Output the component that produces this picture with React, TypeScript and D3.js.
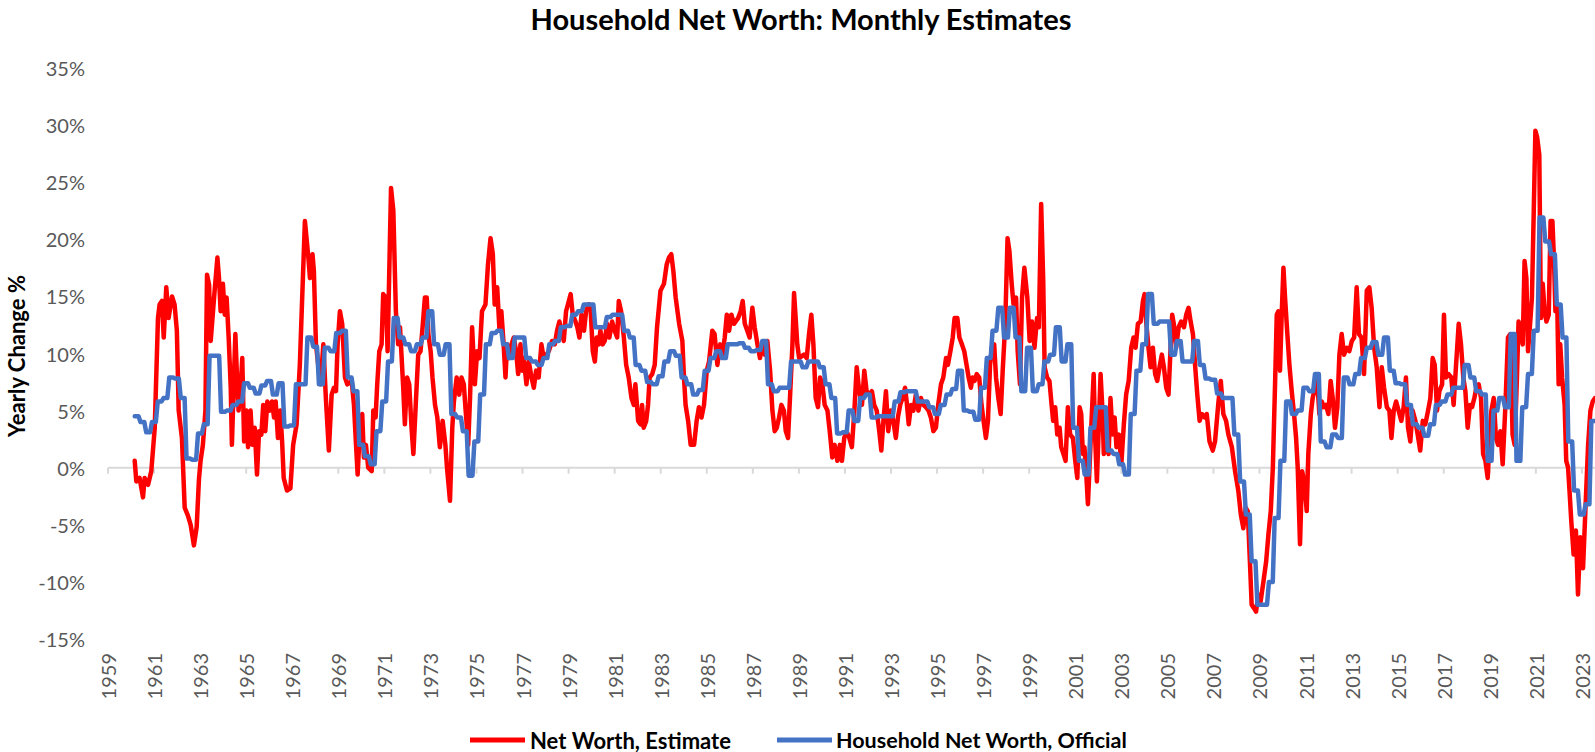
import React from "react";
import * as d3 from "d3";

// Monthly estimate of household net worth, yearly % change: [decimal year, value]
const netWorthEstimate: [number, number][] = [
  [1960.16, 0.6], [1960.23, -1.2], [1960.37, -0.9], [1960.52, -2.6], [1960.59, -0.9], [1960.74, -1.5], [1960.88, -0.3],
  [1961.03, 3.5], [1961.17, 13.1], [1961.24, 14.3], [1961.34, 14.6], [1961.42, 11.4], [1961.53, 15.8], [1961.63, 13.1],
  [1961.78, 15.0], [1961.89, 14.3], [1961.99, 12.0], [1962.07, 5.0], [1962.21, 2.6], [1962.33, -3.5], [1962.47, -4.2],
  [1962.59, -5.0], [1962.73, -6.8], [1962.85, -5.2], [1962.95, -1.0], [1963.02, 0.6], [1963.12, 2.0], [1963.23, 5.0],
  [1963.30, 16.9], [1963.39, 16.0], [1963.46, 11.1], [1963.56, 13.7], [1963.63, 15.5], [1963.75, 18.4], [1963.82, 16.6],
  [1963.89, 13.7], [1963.99, 16.1], [1964.07, 13.4], [1964.15, 14.9], [1964.24, 11.4], [1964.33, 7.0], [1964.38, 2.0],
  [1964.47, 7.9], [1964.53, 11.7], [1964.62, 7.0], [1964.67, 5.0], [1964.76, 7.0], [1964.83, 9.6], [1964.91, 2.3],
  [1965.01, 5.0], [1965.08, 1.8], [1965.19, 5.0], [1965.27, 2.0], [1965.37, 3.5], [1965.47, -0.6], [1965.56, 3.2],
  [1965.66, 2.9], [1965.74, 5.5], [1965.83, 3.2], [1965.92, 5.8], [1966.02, 5.0], [1966.12, 5.8], [1966.21, 4.4],
  [1966.28, 5.8], [1966.38, 2.6], [1966.48, 5.0], [1966.56, 2.3], [1966.63, -0.9], [1966.77, -2.0], [1966.92, -1.8],
  [1967.04, 2.0], [1967.19, 3.8], [1967.33, 9.0], [1967.55, 21.6], [1967.70, 18.4], [1967.77, 16.6], [1967.88, 18.7],
  [1967.94, 17.2], [1968.03, 10.8], [1968.13, 9.0], [1968.23, 7.3], [1968.35, 10.8], [1968.46, 6.1], [1968.59, 1.5],
  [1968.71, 6.4], [1968.81, 7.0], [1968.90, 6.7], [1968.97, 10.8], [1969.07, 13.7], [1969.17, 12.6], [1969.29, 7.9],
  [1969.39, 7.3], [1969.58, 7.6], [1969.68, 5.5], [1969.77, 2.0], [1969.84, -0.6], [1969.94, 3.5], [1970.04, 4.7],
  [1970.11, 0.9], [1970.20, 2.0], [1970.30, 0.0], [1970.45, -0.3], [1970.52, 5.0], [1970.62, 4.4], [1970.69, 7.3],
  [1970.78, 10.2], [1970.88, 10.8], [1970.95, 15.2], [1971.07, 14.9], [1971.14, 10.2], [1971.29, 24.5], [1971.39, 22.5],
  [1971.50, 13.7], [1971.60, 10.8], [1971.68, 12.3], [1971.82, 7.0], [1971.89, 3.8], [1971.99, 7.9], [1972.08, 7.3],
  [1972.18, 3.5], [1972.26, 1.2], [1972.37, 5.8], [1972.47, 9.9], [1972.57, 10.2], [1972.66, 12.3], [1972.76, 14.9],
  [1972.84, 14.9], [1972.91, 11.7], [1973.01, 10.2], [1973.09, 7.9], [1973.20, 5.5], [1973.30, 4.4], [1973.41, 1.8],
  [1973.53, 4.1], [1973.65, 2.0], [1973.72, 0.0], [1973.85, -2.9], [1973.95, 3.5], [1974.02, 5.8], [1974.14, 7.9],
  [1974.25, 6.4], [1974.35, 7.9], [1974.45, 7.3], [1974.53, 5.0], [1974.64, 2.0], [1974.72, 6.1], [1974.81, 12.3],
  [1974.93, 7.3], [1975.03, 10.2], [1975.13, 9.6], [1975.24, 13.7], [1975.39, 14.3], [1975.50, 17.8], [1975.61, 20.1],
  [1975.71, 18.7], [1975.79, 14.3], [1975.90, 15.8], [1976.00, 12.0], [1976.08, 13.7], [1976.18, 10.8], [1976.26, 7.9],
  [1976.33, 10.8], [1976.43, 9.6], [1976.52, 10.8], [1976.62, 11.4], [1976.72, 10.2], [1976.81, 8.2], [1976.91, 10.8],
  [1976.98, 8.5], [1977.05, 9.6], [1977.17, 7.3], [1977.27, 9.3], [1977.39, 7.9], [1977.49, 7.0], [1977.59, 8.5],
  [1977.70, 7.9], [1977.82, 10.8], [1977.92, 9.6], [1978.14, 10.2], [1978.28, 11.1], [1978.40, 10.8], [1978.50, 12.0],
  [1978.60, 12.8], [1978.69, 12.0], [1978.79, 11.1], [1978.89, 13.7], [1979.01, 14.6], [1979.09, 15.2], [1979.18, 13.4],
  [1979.30, 12.8], [1979.38, 12.3], [1979.47, 11.4], [1979.56, 13.4], [1979.67, 12.0], [1979.76, 13.7], [1979.88, 14.3],
  [1979.96, 13.7], [1980.05, 10.2], [1980.14, 9.3], [1980.22, 11.4], [1980.31, 10.8], [1980.38, 12.0], [1980.48, 10.8],
  [1980.57, 11.1], [1980.67, 12.6], [1980.77, 11.4], [1980.89, 12.8], [1981.00, 12.0], [1981.11, 11.4], [1981.18, 14.6],
  [1981.28, 13.7], [1981.40, 11.4], [1981.50, 9.0], [1981.61, 7.9], [1981.73, 6.1], [1981.83, 5.5], [1981.90, 7.3],
  [1982.02, 4.1], [1982.12, 3.8], [1982.19, 5.5], [1982.26, 3.5], [1982.37, 4.1], [1982.45, 5.5], [1982.52, 7.9],
  [1982.63, 8.2], [1982.74, 9.0], [1982.84, 12.3], [1982.99, 15.5], [1983.14, 16.1], [1983.26, 17.8], [1983.36, 18.4],
  [1983.46, 18.7], [1983.55, 17.2], [1983.65, 14.9], [1983.80, 12.6], [1983.94, 11.1], [1984.01, 7.9], [1984.08, 5.5],
  [1984.19, 4.1], [1984.30, 2.0], [1984.45, 2.0], [1984.56, 4.1], [1984.66, 5.3], [1984.77, 4.4], [1984.88, 5.5],
  [1985.00, 8.5], [1985.10, 9.3], [1985.24, 12.0], [1985.34, 11.7], [1985.46, 9.0], [1985.58, 10.8], [1985.68, 9.9],
  [1985.78, 11.4], [1985.87, 13.4], [1985.97, 12.0], [1986.07, 13.4], [1986.18, 12.6], [1986.36, 13.1], [1986.47, 13.7],
  [1986.56, 14.6], [1986.65, 12.6], [1986.76, 12.0], [1986.86, 11.4], [1986.98, 14.0], [1987.08, 12.3], [1987.20, 10.8],
  [1987.31, 9.6], [1987.41, 10.8], [1987.52, 9.9], [1987.63, 11.1], [1987.75, 8.5], [1987.85, 5.0], [1987.95, 3.2],
  [1988.04, 3.5], [1988.14, 4.4], [1988.24, 5.5], [1988.35, 5.0], [1988.43, 3.2], [1988.53, 2.6], [1988.62, 6.4],
  [1988.72, 10.8], [1988.79, 15.3], [1988.86, 13.1], [1988.93, 10.8], [1989.01, 9.6], [1989.22, 9.9], [1989.34, 9.6],
  [1989.44, 11.7], [1989.54, 13.4], [1989.63, 10.8], [1989.73, 6.1], [1989.83, 5.3], [1989.92, 7.9], [1990.02, 7.3],
  [1990.12, 5.5], [1990.24, 5.0], [1990.34, 3.2], [1990.45, 0.9], [1990.55, 2.0], [1990.67, 0.6], [1990.78, 2.0],
  [1990.87, 0.6], [1990.97, 2.6], [1991.07, 3.2], [1991.19, 2.6], [1991.30, 1.8], [1991.41, 5.0], [1991.51, 8.8],
  [1991.62, 6.7], [1991.74, 5.5], [1991.84, 8.5], [1991.94, 6.7], [1992.06, 6.4], [1992.17, 6.7], [1992.27, 5.5],
  [1992.38, 5.0], [1992.49, 3.2], [1992.58, 1.5], [1992.67, 4.1], [1992.78, 6.7], [1992.88, 3.2], [1992.99, 5.0],
  [1993.10, 4.1], [1993.21, 2.6], [1993.30, 4.4], [1993.40, 5.5], [1993.50, 6.1], [1993.61, 7.0], [1993.68, 5.8],
  [1993.77, 3.8], [1993.87, 5.5], [1993.97, 5.0], [1994.08, 6.4], [1994.19, 5.0], [1994.30, 6.1], [1994.40, 5.5],
  [1994.52, 5.3], [1994.63, 5.0], [1994.73, 4.4], [1994.84, 3.2], [1994.95, 3.5], [1995.05, 5.5], [1995.17, 7.3],
  [1995.27, 7.9], [1995.39, 9.6], [1995.47, 9.0], [1995.58, 10.2], [1995.68, 11.4], [1995.76, 13.1], [1995.88, 13.1],
  [1995.97, 11.4], [1996.08, 10.8], [1996.18, 10.2], [1996.28, 9.0], [1996.37, 7.9], [1996.47, 7.0], [1996.54, 7.9],
  [1996.63, 7.6], [1996.72, 8.2], [1996.83, 7.9], [1996.93, 5.5], [1997.02, 4.1], [1997.12, 2.6], [1997.21, 4.1],
  [1997.30, 9.0], [1997.38, 10.5], [1997.48, 10.8], [1997.56, 7.9], [1997.66, 6.1], [1997.76, 4.7], [1997.85, 8.5],
  [1997.96, 12.6], [1998.06, 20.1], [1998.14, 19.0], [1998.24, 16.1], [1998.32, 14.3], [1998.43, 14.9], [1998.50, 10.2],
  [1998.60, 7.3], [1998.69, 14.9], [1998.79, 17.5], [1998.92, 14.9], [1999.02, 11.1], [1999.12, 12.8], [1999.23, 10.5],
  [1999.34, 13.1], [1999.42, 12.3], [1999.52, 23.1], [1999.61, 16.3], [1999.67, 8.8], [1999.78, 7.9], [1999.88, 7.6],
  [1999.96, 5.8], [2000.04, 4.1], [2000.13, 5.3], [2000.22, 2.9], [2000.32, 3.5], [2000.39, 1.8], [2000.49, 1.2],
  [2000.58, 0.6], [2000.68, 5.3], [2000.78, 2.9], [2000.90, 2.6], [2001.00, 0.6], [2001.09, -0.9], [2001.19, 5.3],
  [2001.26, 4.7], [2001.33, 1.2], [2001.40, 1.8], [2001.48, -0.6], [2001.55, -3.2], [2001.62, 0.0], [2001.72, 4.7],
  [2001.80, 8.2], [2001.87, 2.3], [2001.94, -1.2], [2002.03, 4.1], [2002.10, 8.2], [2002.19, 4.7], [2002.24, 1.2],
  [2002.35, 2.3], [2002.45, 1.2], [2002.53, 6.1], [2002.62, 2.9], [2002.71, 4.4], [2002.79, 1.8], [2002.90, 2.9],
  [2003.00, 0.3], [2003.11, 3.8], [2003.21, 6.4], [2003.32, 7.6], [2003.43, 10.5], [2003.53, 11.4], [2003.62, 10.5],
  [2003.72, 12.6], [2003.84, 12.8], [2003.94, 14.6], [2004.01, 15.2], [2004.08, 12.8], [2004.18, 10.5], [2004.27, 8.8],
  [2004.37, 10.5], [2004.47, 8.2], [2004.56, 7.6], [2004.66, 8.8], [2004.76, 9.9], [2004.85, 8.8], [2004.95, 7.0],
  [2005.05, 6.4], [2005.14, 10.5], [2005.21, 13.4], [2005.28, 12.6], [2005.38, 10.5], [2005.49, 12.3], [2005.60, 12.8],
  [2005.72, 12.3], [2005.82, 13.4], [2005.92, 14.0], [2006.01, 12.8], [2006.11, 11.7], [2006.21, 8.8], [2006.30, 6.4],
  [2006.40, 4.1], [2006.50, 4.7], [2006.62, 4.4], [2006.71, 4.7], [2006.83, 2.3], [2006.97, 1.5], [2007.07, 2.3],
  [2007.22, 5.8], [2007.32, 7.6], [2007.43, 4.7], [2007.55, 4.1], [2007.65, 2.9], [2007.80, 1.8], [2007.94, -0.3],
  [2008.08, -2.0], [2008.19, -4.1], [2008.30, -5.3], [2008.40, -3.5], [2008.49, -3.8], [2008.59, -8.5], [2008.66, -12.0],
  [2008.76, -12.3], [2008.85, -12.6], [2008.95, -11.1], [2009.05, -11.7], [2009.17, -10.0], [2009.29, -8.2], [2009.39, -5.8],
  [2009.49, -3.8], [2009.58, 0.0], [2009.68, 7.6], [2009.75, 13.4], [2009.82, 13.7], [2009.89, 8.5], [2009.97, 13.7],
  [2010.04, 17.5], [2010.11, 14.9], [2010.21, 11.7], [2010.30, 9.0], [2010.40, 6.7], [2010.50, 4.7], [2010.59, 2.6],
  [2010.66, 0.0], [2010.76, -6.7], [2010.85, -0.3], [2010.95, -1.2], [2011.05, -3.8], [2011.12, 1.2], [2011.23, 4.7],
  [2011.31, 6.1], [2011.41, 7.0], [2011.51, 7.6], [2011.60, 4.7], [2011.70, 5.8], [2011.80, 5.3], [2011.89, 5.5],
  [2011.99, 4.7], [2012.09, 7.6], [2012.18, 6.1], [2012.28, 3.5], [2012.38, 5.3], [2012.47, 9.9], [2012.57, 11.7],
  [2012.67, 9.9], [2012.79, 10.5], [2012.90, 10.2], [2013.01, 11.1], [2013.11, 11.4], [2013.22, 15.8], [2013.32, 11.7],
  [2013.43, 11.4], [2013.54, 8.2], [2013.66, 15.5], [2013.77, 15.8], [2013.87, 14.0], [2013.98, 10.5], [2014.09, 8.8],
  [2014.21, 5.3], [2014.31, 8.8], [2014.41, 7.0], [2014.53, 5.3], [2014.64, 5.0], [2014.73, 2.6], [2014.83, 5.0],
  [2014.93, 5.8], [2015.04, 5.0], [2015.16, 4.1], [2015.26, 5.3], [2015.36, 7.9], [2015.45, 3.5], [2015.55, 2.3],
  [2015.65, 5.0], [2015.77, 4.1], [2015.87, 2.9], [2015.98, 1.5], [2016.09, 4.1], [2016.20, 3.8], [2016.32, 5.0],
  [2016.42, 6.1], [2016.52, 9.6], [2016.61, 9.0], [2016.71, 5.0], [2016.81, 6.7], [2016.93, 7.3], [2017.01, 13.4],
  [2017.10, 7.9], [2017.21, 8.2], [2017.33, 7.9], [2017.43, 5.5], [2017.53, 8.8], [2017.65, 12.6], [2017.75, 10.8],
  [2017.85, 7.9], [2017.94, 6.7], [2018.04, 3.5], [2018.14, 5.5], [2018.23, 5.3], [2018.33, 6.1], [2018.42, 7.0],
  [2018.52, 7.3], [2018.62, 6.1], [2018.71, 1.2], [2018.81, 0.6], [2018.91, -0.9], [2018.98, 2.0], [2019.07, 5.0],
  [2019.17, 6.1], [2019.27, 2.6], [2019.36, 2.0], [2019.46, 3.2], [2019.56, 0.3], [2019.68, 5.5], [2019.79, 11.4],
  [2019.89, 11.7], [2019.99, 2.9], [2020.08, 2.0], [2020.18, 7.9], [2020.25, 12.8], [2020.33, 12.0], [2020.43, 10.8],
  [2020.51, 18.1], [2020.59, 16.6], [2020.66, 10.2], [2020.75, 12.6], [2020.83, 14.9], [2020.91, 22.5], [2020.98, 29.5],
  [2021.06, 28.9], [2021.15, 27.4], [2021.22, 13.1], [2021.30, 16.1], [2021.38, 13.7], [2021.46, 12.8], [2021.56, 13.4],
  [2021.64, 21.6], [2021.72, 21.6], [2021.79, 18.1], [2021.85, 13.7], [2021.93, 14.3], [2021.99, 7.3], [2022.06, 10.8],
  [2022.14, 7.9], [2022.25, 5.5], [2022.32, 0.6], [2022.40, 0.0], [2022.47, -2.3], [2022.54, -4.7], [2022.64, -7.6],
  [2022.74, -5.5], [2022.83, -11.1], [2022.93, -6.1], [2023.05, -8.8], [2023.15, -3.8], [2023.27, 2.0], [2023.37, 5.0],
  [2023.47, 5.8], [2023.57, 6.1],
];

// Official quarterly household net worth, yearly % change, first quarter starts at officialFirstQuarter
const officialFirstQuarter = 1960.16;
const officialQuarterly: number[] = [
  4.5, 4.0, 3.1, 4.0, 5.8, 6.1, 7.9, 7.8, 6.1, 0.8,
  0.7, 3.0, 3.8, 9.8, 9.8, 4.9, 5.0, 5.5, 5.8, 7.4,
  7.0, 6.5, 7.2, 7.6, 6.4, 7.4, 3.6, 3.7, 7.3, 7.3,
  11.4, 10.6, 7.3, 10.5, 10.2, 11.8, 12.0, 7.9, 6.7, 2.0,
  1.0, 0.3, 3.2, 5.8, 9.3, 13.1, 11.4, 10.8, 10.2, 10.8,
  11.4, 13.7, 10.8, 9.9, 10.8, 4.7, 4.4, 3.2, -0.7, 2.3,
  6.4, 10.8, 11.8, 12.0, 10.8, 9.6, 11.4, 11.4, 9.6, 9.3,
  9.0, 9.6, 10.8, 11.1, 12.3, 12.4, 13.4, 13.7, 14.3, 14.3,
  12.3, 12.3, 13.2, 13.4, 13.4, 12.0, 11.4, 9.0, 8.5, 7.5,
  7.3, 8.0, 9.3, 10.2, 9.8, 7.9, 7.3, 6.4, 6.8, 8.5,
  9.6, 10.2, 9.6, 10.8, 10.8, 10.9, 10.5, 10.2, 10.3, 11.1,
  7.3, 6.7, 7.0, 7.0, 9.3, 9.3, 8.8, 9.3, 9.3, 8.8,
  7.3, 6.1, 3.0, 3.1, 5.0, 4.1, 6.1, 6.4, 4.4, 4.5,
  4.5, 4.5, 5.8, 6.6, 6.7, 6.7, 5.8, 5.8, 5.3, 4.7,
  5.5, 6.4, 6.9, 8.5, 5.0, 4.9, 4.2, 7.0, 9.6, 12.0,
  14.0, 11.4, 14.0, 11.4, 6.7, 10.5, 6.7, 7.3, 9.3, 9.9,
  12.3, 9.3, 10.8, 3.5, 0.6, -0.6, 3.5, 5.3, 5.3, 1.5,
  1.2, 0.3, -0.6, 4.7, 8.5, 10.8, 15.2, 12.6, 12.8, 12.8,
  9.9, 11.1, 9.3, 9.3, 11.1, 9.0, 7.8, 7.7, 6.5, 6.1,
  6.1, 2.9, -1.2, -4.1, -8.2, -12.0, -12.0, -10.0, -4.4, 0.6,
  5.8, 4.7, 5.0, 7.0, 6.7, 8.2, 2.3, 1.8, 2.9, 2.6,
  7.9, 7.3, 8.2, 9.6, 10.5, 11.0, 9.9, 11.4, 8.5, 7.4,
  7.3, 5.5, 3.8, 3.5, 2.8, 3.8, 5.5, 5.8, 6.4, 7.0,
  7.0, 9.0, 7.9, 6.7, 6.4, 0.6, 5.0, 6.1, 5.3, 11.7,
  0.6, 5.3, 8.2, 12.0, 21.9, 19.8, 18.7, 14.3, 11.4, 2.3,
  -2.0, -4.1, -3.2, 4.1,
];

const yearTicks = [
  1959, 1961, 1963, 1965, 1967, 1969, 1971, 1973, 1975, 1977, 1979, 1981, 1983, 1985, 1987, 1989,
  1991, 1993, 1995, 1997, 1999, 2001, 2003, 2005, 2007, 2009, 2011, 2013, 2015, 2017, 2019, 2021, 2023,
];
const percentTicks = [-15, -10, -5, 0, 5, 10, 15, 20, 25, 30, 35];

const seriesNames = ["Net Worth, Estimate", "Household Net Worth, Official"];
const seriesColors = ["#ff0000", "#4472c4"];

const W = 1595;
const H = 752;
const FONT = "Lato, 'Open Sans', sans-serif";

export default function App() {
  const x = d3.scaleLinear().domain([1959, 2023]).range([108, 1581.9]);
  const y = d3.scaleLinear().domain([-15, 35]).range([639, 68]);

  // Each quarterly official value is held across its three months
  const officialMonthly: [number, number][] = [];
  officialQuarterly.forEach((v, k) => {
    for (let m = 0; m < 3; m++) {
      officialMonthly.push([officialFirstQuarter + k * 0.25 + m / 12, v]);
    }
  });

  const line = d3
    .line<[number, number]>()
    .x((d) => x(d[0]))
    .y((d) => y(d[1]));

  const zeroY = y(0);

  return (
    <svg
      width={W}
      height={H}
      style={{ position: "absolute", left: 0, top: 0, background: "#fff" }}
      fontFamily={FONT}
    >
      <defs>
        <clipPath id="plot-clip">
          <rect x={108} y={40} width={W - 108} height={620} />
        </clipPath>
      </defs>

      <text x={801} y={18} textAnchor="middle" dominantBaseline="central" fontSize={29} fontWeight="bold" fill="#000">
        Household Net Worth: Monthly Estimates
      </text>

      {/* y axis labels */}
      {percentTicks.map((p) => (
        <text key={p} x={85} y={y(p)} textAnchor="end" dominantBaseline="central" fontSize={20} fill="#595959">
          {`${p}%`}
        </text>
      ))}

      <text
        transform={`translate(16, 356) rotate(-90)`}
        textAnchor="middle"
        dominantBaseline="central"
        fontSize={22}
        fontWeight="bold"
        fill="#000"
      >
        Yearly Change %
      </text>

      {/* zero axis with tick marks */}
      <line x1={108} x2={W} y1={zeroY} y2={zeroY} stroke="#d9d9d9" strokeWidth={2} />
      {yearTicks.map((yr) => (
        <line key={`t${yr}`} x1={x(yr)} x2={x(yr)} y1={zeroY} y2={zeroY + 6} stroke="#d9d9d9" strokeWidth={2} />
      ))}

      {/* x axis labels */}
      {yearTicks.map((yr) => (
        <text
          key={yr}
          transform={`translate(${x(yr)}, 653) rotate(-90)`}
          textAnchor="end"
          dominantBaseline="central"
          fontSize={20}
          fill="#595959"
        >
          {yr}
        </text>
      ))}

      <g clipPath="url(#plot-clip)" fill="none" strokeLinejoin="round" strokeLinecap="round">
        <path d={line(netWorthEstimate) || ""} stroke={seriesColors[0]} strokeWidth={4.5} />
        <path d={line(officialMonthly) || ""} stroke={seriesColors[1]} strokeWidth={4.5} />
      </g>

      {/* legend */}
      <line x1={470} x2={525} y1={740} y2={740} stroke={seriesColors[0]} strokeWidth={5} />
      <text x={530} y={740} dominantBaseline="central" fontSize={22} fontWeight="bold" fill="#000">
        {seriesNames[0]}
      </text>
      <line x1={777} x2={832} y1={740} y2={740} stroke={seriesColors[1]} strokeWidth={5} />
      <text x={836} y={740} dominantBaseline="central" fontSize={21.5} fontWeight="bold" fill="#000">
        {seriesNames[1]}
      </text>
    </svg>
  );
}
